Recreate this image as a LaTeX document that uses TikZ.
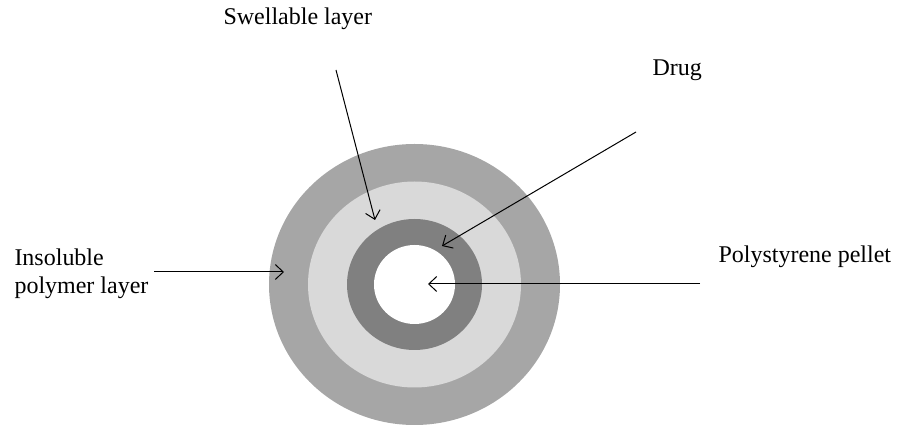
\documentclass[tikz,border=0pt]{standalone}
\usepackage{fontspec}
\setmainfont{Liberation Serif}
\usetikzlibrary{arrows.meta}

\definecolor{outergrey}{HTML}{A6A6A6}
\definecolor{swellgrey}{HTML}{D9D9D9}
\definecolor{druggrey}{HTML}{808080}

\tikzset{every picture/.style={line width=1pt}}
\tikzset{
  lbl/.style={font=\fontsize{24}{28}\selectfont, inner sep=0pt},
  pointer/.style={-{Straight Barb[length=8pt,width=15pt]}, black}
}

\begin{document}
\begin{tikzpicture}[x=1pt, y=1pt]
\useasboundingbox (0,0) rectangle (905,428);

\pgfmathsetmacro{\cx}{414.5}
    \pgfmathsetmacro{\cy}{143.5}

% the layers, outside in
\fill[outergrey] (\cx,\cy) ellipse [x radius=145.5, y radius=140.5];
    \fill[swellgrey] (\cx,\cy) ellipse [x radius=106.5, y radius=103];
    \fill[druggrey] (\cx,\cy) ellipse [x radius=67.5, y radius=65.5];
    \fill[white] (\cx,\cy) ellipse [x radius=40.5, y radius=39.5];

% labels
\node[lbl, anchor=base west] (swell) at (223,403) {Swellable layer};
    \node[lbl, anchor=base west] (drug) at (652,352) {Drug};
    \node[lbl, anchor=base west] (pellet) at (718,165) {Polystyrene pellet};
    \node[lbl, anchor=west, align=left] (insol) at (14,154.6) {Insoluble\\polymer layer};

% arrow ends
\coordinate (swellA) at (336,358);
    \coordinate (swellB) at (375,208);
    \coordinate (drugA) at (636,296);
    \coordinate (drugB) at (442,182);
    \coordinate (insolA) at (154,156);
    \coordinate (insolB) at (284,156);
    \coordinate (pelletA) at (700,144);
    \coordinate (pelletB) at (428,144);

\draw[pointer] (swellA) -- (swellB);
    \draw[pointer] (drugA) -- (drugB);
    \draw[pointer] (insolA) -- (insolB);
    \draw[pointer] (pelletA) -- (pelletB);

\end{tikzpicture}
\end{document}
